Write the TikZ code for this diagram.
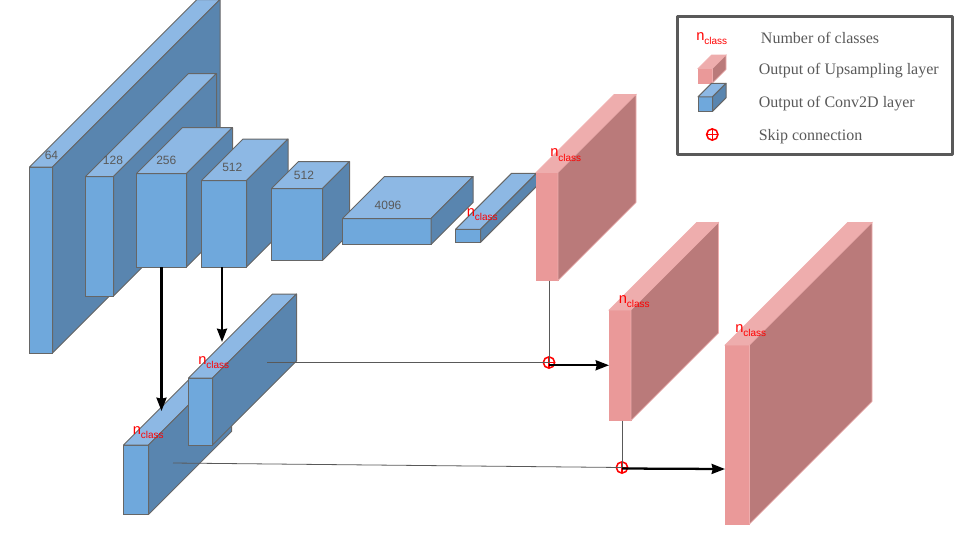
\documentclass[tikz,border=0pt]{standalone}
\usepackage{fontspec}
\setmainfont{Liberation Sans}
\newfontfamily\legendfont{Liberation Serif}
\usetikzlibrary{arrows.meta}
\definecolor{edgegrey}{HTML}{666666}
\definecolor{textgrey}{HTML}{595959}
\definecolor{bluefront}{HTML}{6FA8DC}
\definecolor{bluetop}{HTML}{8DB8E4}
\definecolor{blueside}{HTML}{5985AF}
\definecolor{pinkfront}{HTML}{EA9999}
\definecolor{pinktop}{HTML}{EEADAD}
\definecolor{pinkside}{HTML}{BA7A7A}
\tikzstyle{bluefrontface} = [fill=bluefront, draw=edgegrey, line width=0.75pt]
\tikzstyle{bluetopface} = [fill=bluetop, draw=edgegrey, line width=0.75pt, line join=round]
\tikzstyle{bluesideface} = [fill=blueside, draw=edgegrey, line width=0.75pt, line join=round]
\tikzstyle{pinkfrontface} = [fill=pinkfront, draw=pinkfront, line width=0.5pt]
\tikzstyle{pinktopface} = [fill=pinktop, draw=pinktop, line width=0.5pt]
\tikzstyle{pinksideface} = [fill=pinkside, draw=pinktop, line width=0.5pt]
\tikzstyle{filters} = [text=textgrey, font=\fontsize{9}{11}\selectfont]
\tikzstyle{classes} = [anchor=base west, inner sep=0, text=red]
\tikzstyle{legendtext} = [anchor=base west, inner sep=0, text=textgrey, font=\legendfont\fontsize{12}{14}\selectfont]
\tikzstyle{skip} = [circle, draw=red, line width=1.15pt, minimum size=8.5pt, inner sep=0, path picture={\draw [red, line width=1.15pt] (path picture bounding box.north) -- (path picture bounding box.south) (path picture bounding box.west) -- (path picture bounding box.east);}]
\tikzstyle{thinline} = [draw=textgrey, line width=0.6pt]
\tikzstyle{arrow} = [line width=1.7pt, -{Stealth[length=10pt, width=7.5pt, inset=0.8pt]}]
\newcommand{\layerbox}[7]{
\node at (#2, #3) (#1) [#7frontface, anchor=north west, inner sep=0, outer sep=0, minimum width=#4*0.75pt, minimum height=#5*0.75pt] {};
\draw [#7topface] (#1.north west) -- ++(#6, -#6) -- ++(#4, 0) -- (#1.north east) -- cycle;
\draw [#7sideface] (#1.north east) -- ++(#6, -#6) -- ++(0, #5) -- (#1.south east) -- cycle;
}
\newcommand{\nclass}{{\fontsize{11}{13}\selectfont n}\raisebox{-3.6pt}{\fontsize{7.5}{9}\selectfont class}}
\begin{document}
\begin{tikzpicture}[x=0.75pt, y=-0.75pt]
\useasboundingbox (0, 0) rectangle (960, 540);

\layerbox{convone}{29.5}{167}{23}{186}{167.5}{blue}
\layerbox{convtwo}{85.5}{176.5}{28}{119.5}{103}{blue}
\layerbox{convthree}{136.5}{173.5}{50}{93.5}{46}{blue}
\layerbox{convfour}{201.5}{180.5}{45}{86.5}{41.5}{blue}
\layerbox{convfive}{271.5}{188.5}{51}{72}{27}{blue}
\layerbox{convsix}{342.5}{218.5}{88.5}{26}{42}{blue}
\layerbox{convseven}{455.5}{229.3}{25}{13}{56}{blue}
\layerbox{upone}{536}{172.5}{22}{108}{78}{pink}
\layerbox{uptwo}{609}{310}{22}{110.5}{87.5}{pink}
\layerbox{upthree}{725}{345}{24.5}{179}{122.5}{pink}
\layerbox{poolb}{123.5}{445}{25}{69.5}{83}{blue}
\layerbox{poola}{188.5}{378}{24}{67}{84}{blue}

\node at (51.5, 155) (labelone) [filters] {64};
\node at (113, 160) (labeltwo) [filters] {128};
\node at (166.3, 160) (labelthree) [filters] {256};
\node at (232.3, 167.5) (labelfour) [filters] {512};
\node at (304, 175) (labelfive) [filters] {512};
\node at (388, 205) (labelsix) [filters] {4096};

\node at (466.5, 216) (classseven) [classes] {\nclass};
\node at (550, 156.5) (classupone) [classes] {\nclass};
\node at (618.5, 303) (classuptwo) [classes] {\nclass};
\node at (735, 332) (classupthree) [classes] {\nclass};
\node at (198, 364) (classpoola) [classes] {\nclass};
\node at (132.5, 434) (classpoolb) [classes] {\nclass};

\coordinate (taila) at (267, 362.5);
\coordinate (tailb) at (173, 463);
\coordinate (mergea) at (222, 342);
\coordinate (mergeb) at (161.5, 411);
\coordinate (entryb) at (725, 469);
\node at (549, 362.5) (skipa) [skip] {};
\node at (622, 467.5) (skipb) [skip] {};

\draw [thinline] (taila) -- (skipa.center);
\draw [thinline] (tailb) -- (skipb.center);
\draw [thinline] (skipa |- upone.south) -- (skipa.center);
\draw [thinline] (skipb |- uptwo.south) -- (skipb.center);
\draw [arrow] (convthree.south) -- (mergeb);
\draw [arrow] (mergea |- convfour.south) -- (mergea);
\draw [arrow] (skipa.center |- uptwo.west) -- (uptwo.west);
\draw [arrow] (skipb.center) ++(0, 1) -- (entryb);

\draw [line width=2.25pt, draw=textgrey, line join=round] (677, 16) rectangle (952, 154);
\node at (696, 40) (legendclass) [classes] {\nclass};
\layerbox{legendup}{698}{68.5}{14.5}{14.5}{13.5}{pink}
\layerbox{legendconv}{698}{96.8}{14.5}{14.5}{13.5}{blue}
\node at (712.3, 134.5) (legendskip) [skip] {};
\node at (760.7, 43) (legendone) [legendtext] {Number of classes};
\node at (758.5, 74.5) (legendtwo) [legendtext] {Output of Upsampling layer};
\node at (758.5, 107) (legendthree) [legendtext] {Output of Conv2D layer};
\node at (758.5, 140) (legendfour) [legendtext] {Skip connection};

\end{tikzpicture}
\end{document}
